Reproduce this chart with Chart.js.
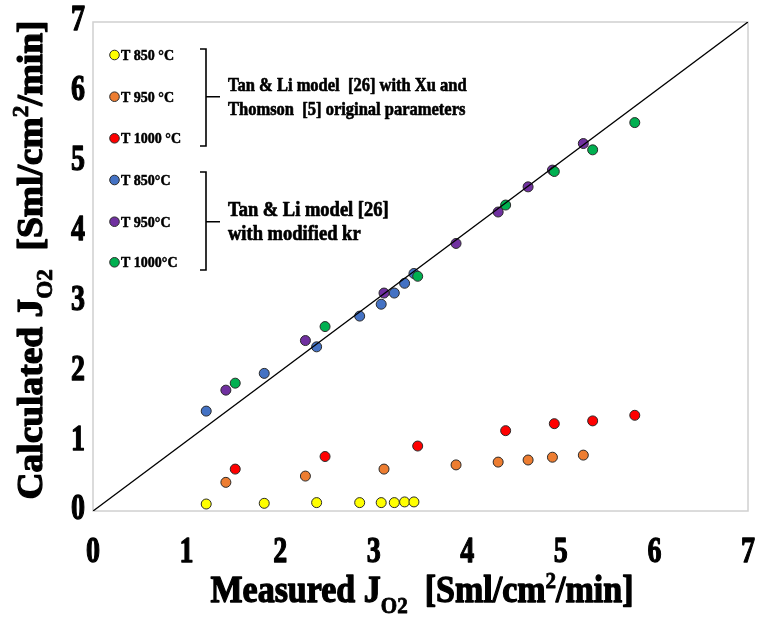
<!DOCTYPE html>
<html><head><meta charset="utf-8">
<script src="https://cdn.jsdelivr.net/npm/chart.js@4"></script>
<style>html,body{margin:0;padding:0;background:#fff}</style>
</head><body>
<canvas id="c" width="758" height="617"></canvas>
<script>
const xTickLabels = ['0','1','2','3','4','5','6','7'];
const yTickLabels = ['0','1','2','3','4','5','6','7'];
const measured850  = [1.21,1.83,2.39,2.85,3.08,3.22,3.33,3.43];
const measured950  = [1.42,2.27,3.11,3.88,4.33,4.65,4.91,5.24];
const measured1000 = [1.52,2.48,3.47,4.41,4.93,5.34,5.79];
const orig850  = [0.10,0.11,0.12,0.12,0.12,0.12,0.13,0.13];
const orig950  = [0.41,0.50,0.60,0.66,0.70,0.73,0.77,0.80];
const orig1000 = [0.60,0.78,0.93,1.15,1.25,1.29,1.37];
const mod850  = [1.43,1.97,2.35,2.79,2.96,3.12,3.26,3.40];
const mod950  = [1.73,2.44,3.12,3.83,4.28,4.64,4.88,5.26];
const mod1000 = [1.83,2.64,3.36,4.38,4.86,5.17,5.56];
const parityLine = [0,7];
const seriesLabels = ['T 850 °C','T 950 °C','T 1000 °C','T 850°C','T 950°C','T 1000°C'];
const seriesColors = ['#FFFF00','#ED7D31','#FF0000','#4472C4','#7030A0','#00B050'];
const group1Text = ['Tan & Li model  [26] with Xu and','Thomson  [5] original parameters'];
const group2Text = ['Tan & Li model [26]','with modified kr'];

const pts = (xs, ys) => xs.map((x,i)=>({x:x,y:ys[i]}));
const seriesData = [
  pts(measured850, orig850), pts(measured950, orig950), pts(measured1000, orig1000),
  pts(measured850, mod850), pts(measured950, mod950), pts(measured1000, mod1000)
];
const orders = [7,6,5,4,3,2];
const datasets = seriesData.map((d,i)=>({
  label: seriesLabels[i], data: d, showLine:false,
  backgroundColor: seriesColors[i], borderColor:'#2a2a2a', borderWidth:1,
  pointRadius:5, pointHoverRadius:5, order: orders[i]
}));
datasets.push({label:'y=x', data: parityLine.map(v=>({x:v,y:v})), showLine:true,
  borderColor:'#000', borderWidth:1.4, pointRadius:0, order:1});

const FONT = '"Liberation Serif","Times New Roman",serif';

function fillBold(ctx, s, x, y, size){
  ctx.lineWidth = Math.max(0.3, size*0.035); ctx.strokeStyle='#000'; ctx.lineJoin='round';
  ctx.strokeText(s,x,y); ctx.fillText(s,x,y);
}
function txt(ctx, s, x, y, size, align, sy){
  ctx.save(); ctx.translate(x,y); ctx.scale(1,sy);
  ctx.font = 'bold '+size+'px '+FONT; ctx.textAlign=align; ctx.textBaseline='middle';
  ctx.fillStyle='#000'; fillBold(ctx,s,0,0,size); ctx.restore();
}
function rich(ctx, parts, size){
  const small = size*0.62;
  let w = 0;
  parts.forEach(p=>{ ctx.font='bold '+(p.sub||p.sup?small:size)+'px '+FONT; p.w=ctx.measureText(p.t).width; w+=p.w; });
  let x = -w/2;
  ctx.textAlign='left'; ctx.textBaseline='alphabetic'; ctx.fillStyle='#000';
  parts.forEach(p=>{
    const sz = (p.sub||p.sup?small:size);
    ctx.font='bold '+sz+'px '+FONT;
    const dy = p.sub? size*0.28 : (p.sup? -size*0.38 : 0);
    fillBold(ctx, p.t, x, dy, sz); x+=p.w;
  });
}

const decor = {
  id:'decor',
  beforeDatasetsDraw(chart){
    const ctx=chart.ctx, a=chart.chartArea;
    ctx.save(); ctx.strokeStyle='#d0d0d0'; ctx.lineWidth=1.5;
    ctx.strokeRect(a.left, a.top, a.right-a.left, a.bottom-a.top); ctx.restore();
  },
  afterDraw(chart){
    const ctx=chart.ctx, xs=chart.scales.x, ys=chart.scales.y;
    xTickLabels.forEach((t,i)=> txt(ctx,t,xs.getPixelForValue(i),553,28,'center',1.3));
    yTickLabels.forEach((t,i)=> txt(ctx,t,78,ys.getPixelForValue(i)-1,28,'center',1.3));
    ctx.save(); ctx.translate(422,602); ctx.scale(1,1.12);
    rich(ctx,[{t:'Measured J'},{t:'O2',sub:true},{t:'  [Sml/cm'},{t:'2',sup:true},{t:'/min]'}],34);
    ctx.restore();
    ctx.save(); ctx.translate(42,260); ctx.rotate(-Math.PI/2); ctx.scale(1.04,1);
    rich(ctx,[{t:'Calculated J'},{t:'O2',sub:true},{t:'  [Sml/cm'},{t:'2',sup:true},{t:'/min]'}],36);
    ctx.restore();
    const ly=[55,96.7,138.3,180,221.7,262.3];
    ly.forEach((y,i)=>{
      ctx.save(); ctx.beginPath(); ctx.arc(114.5,y,4.8,0,Math.PI*2);
      ctx.fillStyle=seriesColors[i]; ctx.fill(); ctx.lineWidth=1; ctx.strokeStyle='#2a2a2a'; ctx.stroke(); ctx.restore();
      txt(ctx, seriesLabels[i], 121, y+1, 14, 'left', 1.1);
    });
    ctx.save(); ctx.strokeStyle='#000'; ctx.lineWidth=1.6;
    [[49,146,96.7],[172,270,221.7]].forEach(b=>{
      ctx.beginPath(); ctx.moveTo(200,b[0]); ctx.lineTo(206,b[0]); ctx.lineTo(206,b[1]); ctx.lineTo(200,b[1]);
      ctx.moveTo(206,b[2]); ctx.lineTo(220,b[2]); ctx.stroke();
    });
    ctx.restore();
    txt(ctx, group1Text[0], 228, 86, 16.5, 'left', 1.1);
    txt(ctx, group1Text[1], 228, 110, 16.5, 'left', 1.1);
    txt(ctx, group2Text[0], 228, 211, 18.5, 'left', 1.1);
    txt(ctx, group2Text[1], 228, 235, 18.5, 'left', 1.1);
  }
};

new Chart(document.getElementById('c'), {
  type:'scatter',
  data:{datasets:datasets},
  options:{
    responsive:false, animation:false, devicePixelRatio:1,
    layout:{padding:{left:93,right:10,top:22,bottom:106}},
    plugins:{legend:{display:false}, tooltip:{enabled:false}},
    scales:{
      x:{type:'linear',min:0,max:7,ticks:{display:false,stepSize:1},grid:{display:false,drawTicks:false},border:{display:false}},
      y:{type:'linear',min:0,max:7,ticks:{display:false,stepSize:1},grid:{display:false,drawTicks:false},border:{display:false}}
    }
  },
  plugins:[decor]
});
</script>
</body></html>
